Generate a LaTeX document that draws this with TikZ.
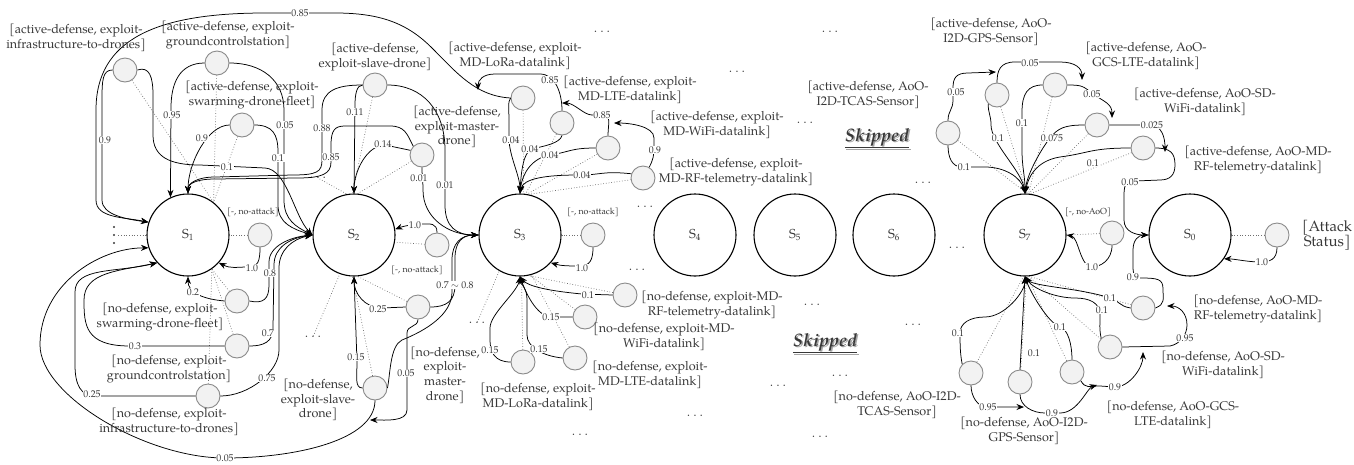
\documentclass[tikz,border=0pt]{standalone}
\usepackage{fontspec}
\setmainfont{TeX Gyre Pagella}
\usetikzlibrary{arrows.meta}
\definecolor{txt}{HTML}{383838}
\definecolor{cfill}{HTML}{F2F2F2}
\definecolor{cline}{HTML}{8A8A8A}
\definecolor{dotc}{HTML}{6E6E6E}
\begin{document}
\begin{tikzpicture}[x=1pt,y=-1pt,
  st/.style={circle,draw,line width=1.1pt,minimum size=82pt,inner sep=0pt,font=\fontsize{13}{13}\selectfont,text=txt},
  ac/.style={circle,draw=cline,fill=cfill,line width=0.9pt,minimum size=24pt,inner sep=0pt},
  tx/.style={align=center,font=\fontsize{12.6}{14.6}\selectfont,text=txt,inner sep=0pt},
  sm/.style={font=\fontsize{8.8}{9}\selectfont,text=txt,inner sep=0pt},
  lb/.style={font=\fontsize{9.8}{10}\selectfont,text=txt,fill=white,inner sep=0.6pt},
  ar/.style={draw,line width=0.75pt,-{Stealth[length=7.5pt,width=6pt]}},
  dt/.style={draw=dotc,line width=0.7pt,dotted},
  dd/.style={font=\fontsize{14}{14}\selectfont,text=txt,inner sep=0pt},
  sk/.style={font=\fontsize{18}{20}\selectfont\bfseries\itshape,inner sep=0pt},
]
\useasboundingbox (0,0) rectangle (1354,464);

% ---------- states ----------
\node[st] (S1) at (188,235) {S\textsubscript{1}};
\node[st] (S2) at (354,235) {S\textsubscript{2}};
\node[st] (S3) at (520,235) {S\textsubscript{3}};
\node[st] (S4) at (695,235) {S\textsubscript{4}};
\node[st] (S5) at (795,235) {S\textsubscript{5}};
\node[st] (S6) at (894,235) {S\textsubscript{6}};
\node[st] (S7) at (1025,235) {S\textsubscript{7}};
\node[st] (S0) at (1190,235) {S\textsubscript{0}};

% ---------- action points ----------
\node[ac] (a1) at (125,70) {};
\node[ac] (a2) at (217,63) {};
\node[ac] (a3) at (242,125) {};
\node[ac] (l1) at (260,235) {};
\node[ac] (n1) at (237,301) {};
\node[ac] (n2) at (237,346) {};
\node[ac] (n3) at (208,396) {};
\node[ac] (a4) at (375,85) {};
\node[ac] (a5) at (422,155) {};
\node[ac] (l2) at (437,245) {};
\node[ac] (n4) at (375,388) {};
\node[ac] (n5) at (418,307) {};
\node[ac] (a6) at (523,98) {};
\node[ac] (a7) at (562,123) {};
\node[ac] (a8) at (608,148) {};
\node[ac] (a9) at (643,178) {};
\node[ac] (l3) at (593,235) {};
\node[ac] (n6) at (625,295) {};
\node[ac] (n7) at (585,317) {};
\node[ac] (n8) at (575,358) {};
\node[ac] (n9) at (523,362) {};
\node[ac] (b1) at (948,133) {};
\node[ac] (b2) at (997,95) {};
\node[ac] (b3) at (1055,85) {};
\node[ac] (b4) at (1097,125) {};
\node[ac] (b5) at (1143,148) {};
\node[ac] (l7) at (1112,233) {};
\node[ac] (l0) at (1277,235) {};
\node[ac] (m1) at (1143,308) {};
\node[ac] (m2) at (1110,347) {};
\node[ac] (m3) at (1072,372) {};
\node[ac] (m4) at (1020,382) {};
\node[ac] (m5) at (971,373) {};

% free ends of the hand-over arrows
\coordinate (j05) at (370,420);
\coordinate (q1) at (478,90);
\coordinate (q2) at (562,103);
\coordinate (q3) at (614,123);
\coordinate (q4) at (996,72);
\coordinate (q5) at (1082,80);
\coordinate (q6) at (1112,118);
\coordinate (q7) at (1165,152);
\coordinate (q8) at (1167,306);
\coordinate (q9) at (1143,352);
\coordinate (q10) at (1097,385);
\coordinate (q11) at (1024,407);

% ---------- ellipses ----------
\node[inner sep=0pt,minimum width=8pt,minimum height=20pt] (v1) at (114,235) {};
\foreach \yy in {227,235,243} \fill[txt] (114,\yy) circle (1.1pt);
\node[dd] (d1) at (318,178) {$\dots$};
\node[dd] (d2) at (313,337) {$\dots$};
\node[dd] (d3) at (477,323) {$\dots$};
\node[dd] (d4) at (602,32) {$\dots$};
\node[dd] (d5) at (737,72) {$\dots$};
\node[dd] (d6) at (830,32) {$\dots$};
\node[dd] (d7) at (805,123) {$\dots$};
\node[dd] (d8) at (923,183) {$\dots$};
\node[dd] (d9) at (645,207) {$\dots$};
\node[dd] (d10) at (637,270) {$\dots$};
\node[dd] (d11) at (812,305) {$\dots$};
\node[dd] (d12) at (913,325) {$\dots$};
\node[dd] (d13) at (840,376) {$\dots$};
\node[dd] (d14) at (778,386) {$\dots$};
\node[dd] (d15) at (695,416) {$\dots$};
\node[dd] (d16) at (820,437) {$\dots$};
\node[dd] (d17) at (580,435) {$\dots$};
\node[dd] (d18) at (957,248) {$\dots$};

% ---------- dotted action links ----------
\draw[dt] (v1) -- (S1.west);
\draw[dt] (a1) -- (S1.52);
\draw[dt] (a2) -- (S1.52);
\draw[dt] (a3) -- (S1.52);
\draw[dt] (l1) -- (S1.east);
\draw[dt] (n1) -- (S1.305);
\draw[dt] (n2) -- (S1.305);
\draw[dt] (n3) -- (S1.305);
\draw[dt] (d1) -- (S2.100);
\draw[dt] (a4) -- (S2.92);
\draw[dt] (a5) -- (S2.85);
\draw[dt] (l2) -- (S2.350);
\draw[dt] (n4) -- (S2.268);
\draw[dt] (n5) -- (S2.275);
\draw[dt] (d2) -- (S2.250);
\draw[dt] (a6) -- (S3.85);
\draw[dt] (a7) -- (S3.82);
\draw[dt] (a8) -- (S3.80);
\draw[dt] (a9) -- (S3.78);
\draw[dt] (l3) -- (S3.east);
\draw[dt] (n6) -- (S3.282);
\draw[dt] (n7) -- (S3.284);
\draw[dt] (n8) -- (S3.286);
\draw[dt] (n9) -- (S3.272);
\draw[dt] (d3) -- (S3.240);
\draw[dt] (b1) -- (S7.87);
\draw[dt] (b2) -- (S7.87);
\draw[dt] (b3) -- (S7.85);
\draw[dt] (b4) -- (S7.85);
\draw[dt] (b5) -- (S7.83);
\draw[dt] (l7) -- (S7.east);
\draw[dt] (m1) -- (S7.275);
\draw[dt] (m2) -- (S7.275);
\draw[dt] (m3) -- (S7.273);
\draw[dt] (m4) -- (S7.272);
\draw[dt] (m5) -- (S7.268);
\draw[dt] (l0) -- (S0.east);

% ---------- transitions around S1 ----------
\draw[ar] (a1.west) .. controls +(-10,0) and +(0,-20) .. (102,100) -- (102,200) .. controls +(0,15) and +(-22,-3) .. (S1.162);
\draw[ar] (a6.west) .. controls +(-35,-2) and +(25,25) .. (432,48) .. controls +(-25,-25) and +(45,0) .. (335,13) -- (265,13) .. controls +(-110,0) and +(0,-70) .. (96,110) -- (96,200) .. controls +(0,18) and +(-25,-5) .. (S1.162);
\draw[ar] (a1.east) .. controls +(12,-4) and +(0,-18) .. (153,95) -- (153,135) .. controls +(0,22) and +(-30,0) .. (200,165) -- (265,168) .. controls +(22,1) and +(-18,-18) .. (S2.west);
\draw[ar] (a2.west) .. controls +(-25,0) and +(0,-25) .. (171,108) -- (S1.115);
\draw[ar] (a2.east) .. controls +(32,0) and +(0,-30) .. (284,110) -- (284,200) .. controls +(0,20) and +(-16,-8) .. (S2.west);
\draw[ar] (a3.west) .. controls +(-22,0) and +(0,-30) .. (S1.north);
\draw[ar] (a3.east) .. controls +(18,0) and +(0,-18) .. (278,152) -- (278,205) .. controls +(0,18) and +(-20,-6) .. (S2.west);
\draw[ar] (l1.south) .. controls +(0,14) and +(10,0) .. (248,267) .. controls +(-12,0) and +(12,6) .. (S1.318);
\draw[ar] (n1.west) .. controls +(-22,-2) and +(0,16) .. (S1.south);
\draw[ar] (n1.east) .. controls +(14,3) and +(0,14) .. (269,285) -- (269,262) .. controls +(0,-16) and +(-22,2) .. (S2.west);
\draw[ar] (n2.west) -- (130,346) .. controls +(-45,0) and +(0,25) .. (84,300) .. controls +(0,-28) and +(-38,8) .. (S1.222);
\draw[ar] (n2.east) .. controls +(14,0) and +(0,14) .. (273,328) -- (274,265) .. controls +(0,-18) and +(-22,3) .. (S2.west);
\draw[ar] (n3.west) -- (95,396) .. controls +(-14,0) and +(0,20) .. (75,365) -- (75,292) .. controls +(0,-25) and +(-42,10) .. (S1.222);
\draw[ar] (n3.east) .. controls +(28,0) and +(0,22) .. (279,350) -- (279,268) .. controls +(0,-18) and +(-20,4) .. (S2.west);

% ---------- transitions around S2 ----------
\draw[ar] (a4.west) .. controls +(-6,0) and +(0,-10) .. (355,105) -- (S2.north);
\draw[ar] (a4.west) .. controls +(-25,0) and +(0,-20) .. (322,110) -- (322,160) .. controls +(0,12) and +(25,0) .. (292,175) -- (215,177) .. controls +(-18,0) and +(0,-10) .. (S1.north);
\draw[ar] (a5.135) .. controls +(-6,-12) and +(15,0) .. (390,126) -- (345,126) .. controls +(-10,0) and +(0,-15) .. (331,145) -- (331,162) .. controls +(0,12) and +(25,0) .. (297,178) -- (215,179) .. controls +(-18,0) and +(0,-10) .. (S1.north);
\draw[ar] (a5.158) -- (385,145) .. controls +(-18,0) and +(0,-22) .. (S2.north);
\draw[ar] (a4.east) .. controls +(35,0) and +(0,-40) .. (445,150) -- (445,205) .. controls +(0,22) and +(-22,0) .. (S3.west);
\draw[ar] (a5.south) .. controls +(0,10) and +(0,-10) .. (423,190) .. controls +(0,28) and +(-30,0) .. (S3.west);
\draw[ar] (l2.north) .. controls +(0,-10) and +(8,0) .. (422,224) .. controls +(-8,0) and +(8,-3) .. (S2.8);
\draw[ar] (n4.west) .. controls +(-8,0) and +(0,15) .. (357,362) -- (S2.south);
\draw[ar] (n5.west) -- (382,308) .. controls +(-18,0) and +(0,16) .. (S2.south);
\draw[ar] (n5.east) .. controls +(16,0) and +(0,16) .. (455,285) -- (455,258) .. controls +(0,-16) and +(-16,0) .. (S3.west);
\draw[ar] (n4.east) .. controls +(3,-15) and +(-12,6) .. (402,340) .. controls +(25,-10) and +(0,22) .. (452,292) -- (452,260) .. controls +(0,-16) and +(-18,0) .. (S3.west);
\draw[ar] (n5.south) .. controls +(0,8) and +(0,-8) .. (407,333) -- (407,410) .. controls +(0,12) and +(15,0) .. (j05);
\draw[ar] (n4.south) .. controls +(0,40) and +(70,0) .. (225,458) .. controls +(-80,0) and +(0,50) .. (40,345) .. controls +(0,-60) and +(-50,0) .. (S1.198);

% ---------- transitions around S3 ----------
\draw[ar] (a6.west) .. controls +(-3,4) and +(0,-10) .. (509,120) -- (509,138) .. controls +(0,18) and +(0,-18) .. (S3.north);
\draw[ar] (a7.south) .. controls +(-2,8) and +(12,-3) .. (532,149) .. controls +(-9,3) and +(1,-20) .. (S3.north);
\draw[ar] (a8.west) .. controls +(-25,0) and +(20,-3) .. (550,155) .. controls +(-18,3) and +(2,-20) .. (S3.north);
\draw[ar] (a9.160) .. controls +(-30,-3) and +(25,0) .. (578,175) .. controls +(-32,0) and +(3,-15) .. (S3.north);
\draw[ar] (a7.north) .. controls +(0,-18) and +(15,0) .. (540,74) -- (495,74) .. controls +(-12,0) and +(0,-10) .. (q1);
\draw[ar] (a8.north) .. controls +(0,-12) and +(10,0) .. (602,115) -- (592,115) .. controls +(-8,0) and +(12,0) .. (q2);
\draw[ar] (a9.60) .. controls +(4,-8) and +(0,10) .. (654,146) -- (654,138) .. controls +(0,-12) and +(15,0) .. (q3);
\draw[ar] (l3.south) .. controls +(0,12) and +(10,0) .. (580,266) .. controls +(-12,0) and +(10,3) .. (S3.318);
\draw[ar] (n6.west) -- (582,294) .. controls +(-32,-3) and +(8,10) .. (S3.south);
\draw[ar] (n7.west) -- (552,317) .. controls +(-16,0) and +(5,14) .. (S3.south);
\draw[ar] (n8.west) .. controls +(-20,-2) and +(0,12) .. (527,335) -- (527,300) .. controls +(0,-12) and +(2,10) .. (S3.south);
\draw[ar] (n9.west) .. controls +(-16,0) and +(0,12) .. (490,340) -- (490,328) .. controls +(0,-14) and +(-3,16) .. (S3.south);

% ---------- transitions around S7 and S0 ----------
\draw[ar] (b1.north) .. controls +(0,-10) and +(0,10) .. (953,100) -- (953,88) .. controls +(0,-10) and +(-12,0) .. (968,73) -- (q4);
\draw[ar] (b2.north) .. controls +(0,-12) and +(-15,0) .. (1015,62) -- (1060,62) .. controls +(15,0) and +(0,-12) .. (q5);
\draw[ar] (b3.east) .. controls +(15,0) and +(-10,-8) .. (1093,94) .. controls +(12,8) and +(0,-14) .. (q6);
\draw[ar] (b4.east) -- (1150,125) .. controls +(12,0) and +(0,-14) .. (q7);
\draw[ar] (b5.east) .. controls +(15,0) and +(0,-12) .. (1175,165) .. controls +(0,10) and +(10,0) .. (1160,180) -- (1135,181) .. controls +(-8,0) and +(0,-12) .. (1124,195) -- (1124,220) .. controls +(0,12) and +(-12,0) .. (S0.west);
\draw[ar] (b1.south) .. controls +(0,12) and +(-10,0) .. (962,167) -- (985,167) .. controls +(20,0) and +(-4,-16) .. (S7.north);
\draw[ar] (b2.south west) .. controls +(0,10) and +(0,-10) .. (991,125) .. controls +(0,18) and +(-3,-22) .. (S7.north);
\draw[ar] (b3.west) .. controls +(-15,0) and +(0,-18) .. (1022,112) -- (1022,150) .. controls +(0,18) and +(0,-18) .. (S7.north);
\draw[ar] (b4.west) .. controls +(-20,0) and +(8,-10) .. (1050,138) .. controls +(-8,10) and +(2,-20) .. (S7.north);
\draw[ar] (b5.west) .. controls +(-40,0) and +(30,-4) .. (1060,157) .. controls +(-25,4) and +(3,-15) .. (S7.north);
\draw[ar] (l7.south) .. controls +(0,15) and +(8,0) .. (1092,267) .. controls +(-12,0) and +(12,2) .. (S7.east);
\draw[ar] (l0.south) .. controls +(0,12) and +(10,0) .. (1260,262) .. controls +(-12,0) and +(10,0) .. (S0.325);
\draw[ar] (m1.west) .. controls +(-12,-2) and +(10,3) .. (1110,298) .. controls +(-30,-10) and +(8,10) .. (S7.south);
\draw[ar] (m1.east) .. controls +(10,-4) and +(0,10) .. (1163,289) .. controls +(0,-10) and +(18,0) .. (1140,278) .. controls +(-6,0) and +(0,8) .. (1133,266) -- (1133,250) .. controls +(0,-10) and +(-10,0) .. (S0.west);
\draw[ar] (m2.north west) .. controls +(-2,-8) and +(0,8) .. (1100,315) .. controls +(0,-12) and +(15,0) .. (1075,298) .. controls +(-20,0) and +(8,12) .. (S7.south);
\draw[ar] (m2.east) -- (1170,346) .. controls +(10,-2) and +(0,10) .. (1187,325) .. controls +(0,-12) and +(12,0) .. (q8);
\draw[ar] (m3.north) .. controls +(0,-15) and +(8,2) .. (1060,327) .. controls +(-12,-4) and +(5,15) .. (S7.south);
\draw[ar] (m3.south east) .. controls +(5,8) and +(-12,0) .. (1100,386) -- (1115,387) .. controls +(15,0) and +(0,15) .. (q9);
\draw[ar] (m4.north) -- (S7.south);
\draw[ar] (m4.south) .. controls +(0,12) and +(-12,0) .. (1045,413) -- (1060,413) .. controls +(18,0) and +(-10,3) .. (q10);
\draw[ar] (m5.north west) .. controls +(-2,-10) and +(0,12) .. (960,333) .. controls +(0,-10) and +(-15,0) .. (985,317) .. controls +(20,0) and +(0,15) .. (S7.south);
\draw[ar] (m5.south) .. controls +(0,10) and +(-10,0) .. (987,407) -- (q11);

% ---------- probabilities ----------
\node[lb] (p1) at (105,140) {0.9};
\node[lb] (p2) at (300,13) {0.85};
\node[lb] (p3) at (227,167) {0.1};
\node[lb] (p4) at (172,115) {0.95};
\node[lb] (p5) at (285,125) {0.05};
\node[lb] (p6) at (202,138) {0.9};
\node[lb] (p7) at (278,158) {0.1};
\node[lb] (p8) at (252,268) {1.0};
\node[lb] (p9) at (193,292) {0.2};
\node[lb] (p10) at (270,273) {0.8};
\node[lb] (p11) at (135,346) {0.3};
\node[lb] (p12) at (268,333) {0.7};
\node[lb] (p13) at (92,394) {0.25};
\node[lb] (p14) at (267,378) {0.75};
\node[lb] (p15) at (355,112) {0.11};
\node[lb] (p16) at (322,128) {0.88};
\node[lb] (p17) at (331,157) {0.85};
\node[lb] (p18) at (383,144) {0.14};
\node[lb] (p19) at (445,185) {0.01};
\node[lb] (p20) at (419,178) {0.01};
\node[lb] (p21) at (415,225) {1.0};
\node[lb] (p22) at (356,357) {0.15};
\node[lb] (p23) at (378,309) {0.25};
\node[lb] (p24) at (455,285) {0.7 $\sim$ 0.8};
\node[lb] (p25) at (406,373) {0.05};
\node[lb] (p26) at (225,458) {0.05};
\node[lb] (p27) at (511,140) {0.04};
\node[lb] (p28) at (530,149) {0.04};
\node[lb] (p29) at (550,155) {0.04};
\node[lb] (p30) at (582,175) {0.04};
\node[lb] (p31) at (550,80) {0.85};
\node[lb] (p32) at (602,115) {0.85};
\node[lb] (p33) at (655,150) {0.9};
\node[lb] (p34) at (582,268) {1.0};
\node[lb] (p35) at (588,295) {0.1};
\node[lb] (p36) at (551,317) {0.15};
\node[lb] (p37) at (539,349) {0.15};
\node[lb] (p38) at (490,350) {0.15};
\node[lb] (p39) at (956,92) {0.05};
\node[lb] (p40) at (1030,63) {0.05};
\node[lb] (p41) at (1092,94) {0.05};
\node[lb] (p42) at (1152,125) {0.025};
\node[lb] (p43) at (1130,182) {0.05};
\node[lb] (p44) at (964,167) {0.1};
\node[lb] (p45) at (998,138) {0.1};
\node[lb] (p46) at (1022,123) {0.1};
\node[lb] (p47) at (1052,138) {0.075};
\node[lb] (p48) at (1093,163) {0.1};
\node[lb] (p49) at (1092,267) {1.0};
\node[lb] (p50) at (1262,262) {1.0};
\node[lb] (p51) at (1110,298) {0.1};
\node[lb] (p52) at (1133,277) {0.9};
\node[lb] (p53) at (1102,310) {0.1};
\node[lb] (p54) at (1185,338) {0.95};
\node[lb] (p55) at (1060,327) {0.1};
\node[lb] (p56) at (1115,387) {0.9};
\node[lb] (p57) at (1034,353) {0.1};
\node[lb] (p58) at (1052,413) {0.9};
\node[lb] (p59) at (958,333) {0.1};
\node[lb] (p60) at (988,407) {0.95};

% ---------- action names ----------
\node[tx] (t1) at (76,38) {[active-defense, exploit-\\infrastructure-to-drones]};
\node[tx] (t2) at (228,35) {[active-defense, exploit-\\groundcontrolstation]};
\node[tx] (t3) at (252,95) {[active-defense, exploit-\\swarming-drone-fleet]};
\node[sm] (t4) at (253,212) {[-, no-attack]};
\node[tx] (t5) at (160,317) {[no-defense, exploit-\\swarming-drone-fleet]};
\node[tx] (t6) at (169,369) {[no-defense, exploit-\\groundcontrolstation]};
\node[tx] (t7) at (169,422) {[no-defense, exploit-\\infrastructure-to-drones]};
\node[tx] (t8) at (375,57) {[active-defense,\\exploit-slave-drone]};
\node[tx] (t9) at (457,127) {[active-defense,\\exploit-master-\\drone]};
\node[sm] (t10) at (417,270) {[-, no-attack]};
\node[tx] (t11) at (318,400) {[no-defense,\\exploit-slave-\\drone]};
\node[tx] (t12) at (445,375) {[no-defense,\\exploit-\\master-\\drone]};
\node[tx] (t13) at (515,56) {[active-defense, exploit-\\MD-LoRa-datalink]};
\node[tx] (t14) at (630,90) {[active-defense, exploit-\\MD-LTE-datalink]};
\node[tx] (t15) at (717,125) {[active-defense, exploit-\\MD-WiFi-datalink]};
\node[tx] (t16) at (736,172) {[active-defense, exploit-\\MD-RF-telemetry-datalink]};
\node[sm] (t17) at (593,212) {[-, no-attack]};
\node[tx] (t18) at (712,305) {[no-defense, exploit-MD-\\RF-telemetry-datalink]};
\node[tx] (t19) at (664,337) {[no-defense, exploit-MD-\\WiFi-datalink]};
\node[tx] (t20) at (650,375) {[no-defense, exploit-\\MD-LTE-datalink]};
\node[tx] (t21) at (538,397) {[no-defense, exploit-\\MD-LoRa-datalink]};
\node[tx] (t22) at (868,95) {[active-defense, AoO-\\I2D-TCAS-Sensor]};
\node[tx] (t23) at (991,32) {[active-defense, AoO-\\I2D-GPS-Sensor]};
\node[tx] (t24) at (1146,56) {[active-defense, AoO-\\GCS-LTE-datalink]};
\node[tx] (t25) at (1205,102) {[active-defense, AoO-SD-\\WiFi-datalink]};
\node[tx] (t26) at (1258,160) {[active-defense, AoO-MD-\\RF-telemetry-datalink]};
\node[sm] (t27) at (1088,212) {[-, no-AoO]};
\node[tx,anchor=west,font=\fontsize{15}{15}\selectfont] (t28) at (1302,235) {[Attack\\Status]};
\node[tx] (t29) at (1258,309) {[no-defense, AoO-MD-\\RF-telemetry-datalink]};
\node[tx] (t30) at (1223,365) {[no-defense, AoO-SD-\\WiFi-datalink]};
\node[tx] (t31) at (1173,415) {[no-defense, AoO-GCS-\\LTE-datalink]};
\node[tx] (t32) at (1024,431) {[no-defense, AoO-I2D-\\GPS-Sensor]};
\node[tx] (t33) at (897,405) {[no-defense, AoO-I2D-\\TCAS-Sensor]};

% ---------- skipped region markers ----------
\node[sk,text=black!35] (k1s) at (878.5,139.5) {\underline{Skipped}};
\node[sk,text=txt] (k1) at (877,138) {\underline{Skipped}};
\node[sk,text=black!35] (k2s) at (826.5,344.5) {\underline{Skipped}};
\node[sk,text=txt] (k2) at (825,343) {\underline{Skipped}};
\end{tikzpicture}
\end{document}
